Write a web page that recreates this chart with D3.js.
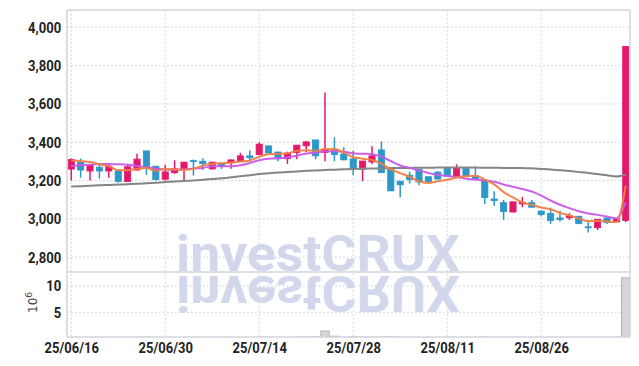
<!DOCTYPE html>
<html>
<head>
<meta charset="utf-8">
<script src="https://cdn.jsdelivr.net/npm/d3@7/dist/d3.min.js"></script>
<style>
  body { margin: 0; background: #fff; }
  svg { display: block; }
  .axis text { font-family: Roboto, "DejaVu Sans", sans-serif; font-size: 15.5px; font-weight: bold; fill: #232323; }
  .axis path { display: none; }
  .grid line { stroke: #c6cadf; stroke-width: 1; stroke-dasharray: 1.5,2.5; }
  .frame line { stroke: #d3d5dd; stroke-width: 1.5; }
</style>
</head>
<body>
<svg width="639" height="366"></svg>
<script>
// trading days (yy/mm/dd)
const dates = ['25/06/16','25/06/17','25/06/18','25/06/19','25/06/20','25/06/23','25/06/24','25/06/25','25/06/26','25/06/27',
  '25/06/30','25/07/01','25/07/02','25/07/03','25/07/04','25/07/07','25/07/08','25/07/09','25/07/10','25/07/11',
  '25/07/14','25/07/15','25/07/16','25/07/17','25/07/18','25/07/21','25/07/22','25/07/23','25/07/24','25/07/25',
  '25/07/28','25/07/29','25/07/30','25/07/31','25/08/01','25/08/04','25/08/05','25/08/06','25/08/07','25/08/08',
  '25/08/11','25/08/12','25/08/13','25/08/14','25/08/18','25/08/19','25/08/20','25/08/21','25/08/22','25/08/25',
  '25/08/26','25/08/27','25/08/28','25/08/29','25/09/01','25/09/02','25/09/03','25/09/04','25/09/05','25/09/08'];

const open  = [3260,3295,3250,3270,3250,3250,3195,3255,3355,3275, 3207,3241,3258,3304,3301,3261,3288,3296,3301,3329,
  3335,3381,3349,3314,3346,3381,3412,3346,3364,3339, 3313,3259,3297,3360,3261,3197,3228,3259,3220,3244,
  3264,3221,3264,3224,3203,3104,3085,3036,3078,3085, 3041,3028,3005,3006,3014,2959,2954,3005,2984,2992];
const high  = [3315,3315,3285,3285,3285,3255,3285,3340,3355,3276, 3283,3306,3298,3310,3317,3298,3290,3309,3345,3357,
  3400,3383,3350,3351,3386,3405,3412,3660,3426,3374, 3356,3303,3379,3404,3262,3198,3246,3260,3221,3250,
  3266,3285,3266,3273,3204,3144,3099,3090,3115,3099, 3042,3059,3042,3030,3015,2989,2999,3006,3001,3902];
const low   = [3200,3215,3200,3210,3215,3190,3193,3252,3230,3200, 3200,3236,3196,3226,3256,3258,3261,3262,3300,3299,
  3333,3342,3301,3287,3311,3349,3311,3301,3301,3306, 3228,3197,3286,3241,3145,3113,3185,3175,3193,3207,
  3220,3220,3223,3206,3078,3069,2995,3035,3061,3060, 3012,2974,2986,2995,2974,2929,2942,2973,2983,2984];
const close = [3310,3255,3280,3250,3275,3195,3272,3312,3273,3205, 3245,3261,3296,3299,3288,3296,3274,3308,3329,3319,
  3390,3344,3314,3343,3385,3402,3329,3364,3335,3308, 3259,3302,3329,3241,3146,3178,3206,3193,3194,3208,
  3221,3264,3224,3207,3111,3095,3038,3089,3087,3061, 3023,2991,2997,3016,2975,2957,2998,2982,3000,3900];

// volume in millions
const volume = [0.21,0.18,0.20,0.17,0.19,0.22,0.20,0.24,0.26,0.20, 0.18,0.19,0.20,0.17,0.16,0.18,0.17,0.19,0.22,0.20,
  0.28,0.25,0.21,0.20,0.26,0.27,0.30,1.45,0.45,0.25, 0.38,0.28,0.27,0.29,0.30,0.22,0.20,0.19,0.18,0.20,
  0.20,0.22,0.19,0.21,0.27,0.20,0.24,0.21,0.18,0.17, 0.20,0.22,0.18,0.17,0.19,0.21,0.20,0.18,0.19,11.55];

// moving averages
const ma5  = [3305,3302,3297,3285,3274,3255,3254,3261,3265,3251, 3261,3259,3256,3261,3278,3288,3291,3293,3299,3305,
  3324,3338,3339,3342,3355,3358,3355,3365,3363,3348, 3322,3314,3307,3288,3258,3239,3220,3196,3188,3196,
  3204,3216,3222,3225,3205,3180,3140,3112,3086,3074, 3060,3050,3032,3018,3002,2989,2989,2986,2984,3175];
const ma10 = [3276,3280,3283,3287,3287,3285,3282,3276,3270,3263, 3258,3257,3258,3263,3266,3275,3275,3275,3280,3292,
  3306,3314,3316,3321,3330,3341,3346,3352,3353,3351, 3342,3340,3338,3325,3302,3279,3267,3252,3240,3230,
  3224,3218,3210,3205,3201,3194,3180,3168,3156,3143, 3122,3096,3074,3056,3040,3028,3021,3012,3004,3088];
const ma60 = [3169,3171,3173,3175,3177,3179,3181,3183,3186,3189, 3192,3195,3198,3201,3204,3208,3212,3217,3222,3228,
  3234,3238,3242,3245,3248,3251,3253,3255,3257,3259, 3261,3262,3263,3264,3265,3266,3266,3267,3267,3268,
  3268,3268,3268,3268,3267,3267,3266,3266,3265,3264, 3261,3258,3254,3250,3245,3240,3234,3228,3221,3230];

const xTickLabels = ['25/06/16','25/06/30','25/07/14','25/07/28','25/08/11','25/08/26'];
const priceTicks = [2800, 3000, 3200, 3400, 3600, 3800, 4000];
const volumeTicks = [5, 10];

const UP = '#e4186b', DOWN = '#2c97c9';

renderChart();

function renderChart() {
    const svg = d3.select('svg');
    const left = 67, right = 630, top = 10, split = 272, bottom = 337;

    const xScale = d3.scalePoint().domain(dates).range([left, right]).padding(0.45);
    const yScale = d3.scaleLinear().domain([2723, 4090]).range([split, top]);
    const vScale = d3.scaleLinear().domain([0, 12.7]).range([338.6, 271.8]);
    const step = xScale.step();
    const x = i => xScale(dates[i]);

    const defs = svg.append('defs');
    defs.append('clipPath').attr('id', 'clip-price')
        .append('rect').attr('x', left).attr('y', top).attr('width', right - left).attr('height', split - top);
    defs.append('clipPath').attr('id', 'clip-vol')
        .append('rect').attr('x', left).attr('y', split).attr('width', right - left).attr('height', bottom - split);

    // grid
    const grid = svg.append('g').attr('class', 'grid');
    grid.selectAll('.hp').data(priceTicks).enter().append('line')
        .attr('x1', left).attr('x2', right)
        .attr('y1', d => yScale(d)).attr('y2', d => yScale(d));
    grid.selectAll('.hv').data(volumeTicks).enter().append('line')
        .attr('x1', left).attr('x2', right)
        .attr('y1', d => vScale(d)).attr('y2', d => vScale(d));
    grid.selectAll('.vx').data(xTickLabels).enter().append('line')
        .attr('x1', d => xScale(d)).attr('x2', d => xScale(d))
        .attr('y1', top).attr('y2', bottom);

    // watermark, with a mirrored copy below the price panel
    const wm = svg.append('g').attr('font-family', 'Roboto, sans-serif').attr('font-weight', 'bold').attr('font-size', 50);
    wm.append('use').attr('href', '#wm-text')
        .attr('transform', `translate(0,${2 * split + 3}) scale(1,-1)`)
        .attr('fill', '#eaecf3');
    wm.append('text').attr('id', 'wm-text').attr('x', 176).attr('y', split - 1)
        .attr('textLength', 284).attr('lengthAdjust', 'spacingAndGlyphs')
        .attr('fill', '#d2d7ec').text('investCRUX');

    // volume bars
    svg.append('g').attr('clip-path', 'url(#clip-vol)')
        .selectAll('rect').data(volume).enter().append('rect')
        .attr('x', (d, i) => x(i) - step * 0.45)
        .attr('width', step * 0.9)
        .attr('y', d => vScale(d))
        .attr('height', d => vScale(0) - vScale(d))
        .attr('fill', '#d5d5da').attr('stroke', '#b5b5bd').attr('stroke-width', 1);

    // candles
    const candles = svg.append('g').attr('clip-path', 'url(#clip-price)')
        .selectAll('g').data(dates).enter().append('g')
        .attr('fill', (d, i) => close[i] >= open[i] ? UP : DOWN)
        .attr('stroke', (d, i) => close[i] >= open[i] ? UP : DOWN);
    candles.append('line')
        .attr('x1', (d, i) => x(i)).attr('x2', (d, i) => x(i))
        .attr('y1', (d, i) => yScale(high[i])).attr('y2', (d, i) => yScale(low[i]))
        .attr('stroke-width', 1.5);
    candles.append('rect')
        .attr('x', (d, i) => x(i) - 3.1)
        .attr('width', 6.2)
        .attr('y', (d, i) => yScale(Math.max(open[i], close[i])))
        .attr('height', (d, i) => Math.max(1, Math.abs(yScale(open[i]) - yScale(close[i]))))
        .attr('stroke-width', 0.8);

    // moving averages
    const line = d3.line().x((d, i) => x(i)).y(d => yScale(d)).curve(d3.curveMonotoneX);
    const lines = svg.append('g').attr('clip-path', 'url(#clip-price)').attr('fill', 'none');
    lines.append('path').attr('d', line(ma60)).attr('stroke', '#858585').attr('stroke-width', 2);
    lines.append('path').attr('d', line(ma10)).attr('stroke', '#c95ae8').attr('stroke-width', 2).attr('opacity', 0.95);
    lines.append('path').attr('d', line(ma5)).attr('stroke', '#ef7f45').attr('stroke-width', 2).attr('opacity', 0.95);

    // frame
    const frame = svg.append('g').attr('class', 'frame');
    [[left, top, left, bottom], [right, top, right, bottom], [left, top, right, top],
     [left, split, right, split], [left, bottom, right, bottom]].forEach(c => {
        frame.append('line').attr('x1', c[0]).attr('y1', c[1]).attr('x2', c[2]).attr('y2', c[3]);
    });

    // axes (labels squeezed a bit to match the narrow face of the original)
    svg.append('g').attr('class', 'axis').attr('transform', `translate(${left},0)`)
        .call(d3.axisLeft(yScale).tickValues(priceTicks).tickFormat(d3.format(',')).tickSize(0).tickPadding(7))
        .selectAll('text').attr('transform', 'scale(0.84,1)');
    svg.append('g').attr('class', 'axis').attr('transform', `translate(${left},0)`)
        .call(d3.axisLeft(vScale).tickValues(volumeTicks).tickSize(0).tickPadding(7))
        .selectAll('text').attr('transform', 'scale(0.84,1)');
    svg.append('g').attr('class', 'axis').attr('transform', `translate(0,${bottom})`)
        .call(d3.axisBottom(xScale).tickValues(xTickLabels).tickSize(0).tickPadding(5))
        .selectAll('text').attr('transform', 'scale(0.84,1)');

    const unit = svg.append('text')
        .attr('transform', 'translate(37,313) rotate(-90)')
        .attr('font-family', 'DejaVu Sans, sans-serif').attr('font-size', 12).attr('fill', '#444');
    unit.append('tspan').text('10');
    unit.append('tspan').attr('dy', -5).attr('font-size', 9).text('6');
}
</script>
</body>
</html>
